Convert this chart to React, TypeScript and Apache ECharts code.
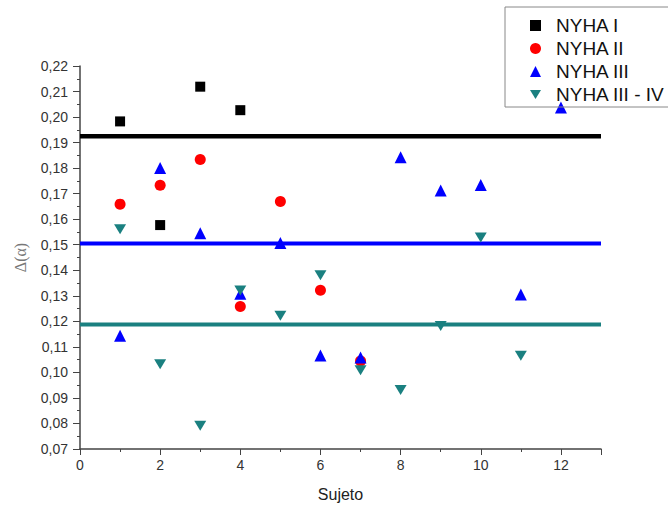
import React, { useEffect, useRef } from "react";
import * as echarts from "echarts";

const subjects = [1, 2, 3, 4, 5, 6, 7, 8, 9, 10, 11, 12];
const nyha1X = [1, 2, 3, 4];
const nyha1Y = [0.1983, 0.1577, 0.2119, 0.2027];
const nyha2X = [1, 2, 3, 4, 5, 6, 7];
const nyha2Y = [0.1659, 0.1733, 0.1834, 0.1258, 0.1669, 0.1322, 0.1045];
const nyha3X = subjects;
const nyha3Y = [0.1144, 0.1801, 0.1545, 0.1308, 0.1507, 0.1066, 0.1058, 0.1843, 0.1712, 0.1734, 0.1305, 0.2037];
const nyha34X = [1, 2, 3, 4, 5, 6, 7, 8, 9, 10, 11];
const nyha34Y = [0.1561, 0.1032, 0.0791, 0.1321, 0.1222, 0.138, 0.1008, 0.0931, 0.1182, 0.1528, 0.1065];
const meanLevels = [0.1925, 0.1505, 0.1188];
const meanColors = ["#000000", "#0000ff", "#1a8080"];
const seriesNames = ["NYHA I", "NYHA II", "NYHA III", "NYHA III - IV"];

const zip = (xs: number[], ys: number[]) => xs.map((x, i) => [x, ys[i]]);

const downTri = "path://M0,0 L12,0 L6,10 Z";

export default function App() {
  const ref = useRef<HTMLDivElement>(null);
  useEffect(() => {
    if (!ref.current) return;
    const chart = echarts.init(ref.current, undefined, { renderer: "svg" });
    const font = "Liberation Sans, Arial, sans-serif";
    const lines = meanLevels.map((v, i) => ({
      name: "mean" + i,
      type: "line",
      data: [[0, v], [13, v]],
      symbol: "none",
      lineStyle: { color: meanColors[i], width: i === 0 ? 4.5 : 4 },
      z: 1,
      silent: true,
    }));
    const scat = (name: string, data: number[][], symbol: string, color: string, size: number | number[]) => ({
      name,
      type: "scatter",
      data,
      symbol,
      symbolSize: size,
      itemStyle: { color, opacity: 1 },
      z: 3,
    });
    chart.setOption({
      animation: false,
      backgroundColor: "#ffffff",
      grid: { left: 80, right: 67, top: 66, bottom: 59 },
      legend: {
        orient: "vertical",
        left: 505,
        top: 7,
        data: [
          { name: seriesNames[0], icon: "rect" },
          { name: seriesNames[1], icon: "circle" },
          { name: seriesNames[2], icon: "triangle" },
          { name: seriesNames[3], icon: downTri },
        ],
        itemWidth: 11,
        itemHeight: 11,
        itemGap: 4,
        padding: [9, 30, 3, 25],
        borderColor: "#888888",
        borderWidth: 1,
        textStyle: { fontFamily: font, fontSize: 19, color: "#111", padding: [0, 0, 0, 10] },
      },
      xAxis: {
        type: "value",
        min: 0,
        max: 13,
        interval: 2,
        name: "Sujeto",
        nameLocation: "middle",
        nameGap: 37,
        nameTextStyle: { fontFamily: font, fontSize: 16, color: "#222" },
        axisLine: { lineStyle: { color: "#444", width: 1.5 } },
        axisTick: { show: true, length: 6, inside: false, lineStyle: { color: "#444" } },
        minorTick: { show: true, splitNumber: 2, length: 3, lineStyle: { color: "#444" } },
        axisLabel: {
          fontFamily: font,
          fontSize: 14,
          color: "#333",
          margin: 9,
          formatter: (v: number) => (v % 2 === 0 ? String(v) : ""),
        },
        splitLine: { show: false },
      },
      yAxis: {
        type: "value",
        min: 0.07,
        max: 0.22,
        interval: 0.01,
        name: "Δ(α)",
        nameLocation: "middle",
        nameGap: 52,
        nameRotate: 90,
        nameTextStyle: { fontFamily: "Liberation Serif, Times New Roman, serif", fontSize: 16, color: "#777" },
        axisLine: { show: true, lineStyle: { color: "#444", width: 1.5 } },
        axisTick: { show: true, length: 7, inside: false, lineStyle: { color: "#444" } },
        minorTick: { show: true, splitNumber: 2, length: 3, lineStyle: { color: "#444" } },
        axisLabel: {
          fontFamily: font,
          fontSize: 14,
          color: "#333",
          margin: 12,
          formatter: (v: number) => v.toFixed(2).replace(".", ","),
        },
        splitLine: { show: false },
      },
      series: [
        ...lines,
        scat("NYHA I", zip(nyha1X, nyha1Y), "rect", "#000000", 10),
        scat("NYHA II", zip(nyha2X, nyha2Y), "circle", "#ff0000", 11),
        scat("NYHA III", zip(nyha3X, nyha3Y), "triangle", "#0000ff", 12),
        scat("NYHA III - IV", zip(nyha34X, nyha34Y), downTri, "#1a8080", [12, 10]),
      ],
    });
    return () => chart.dispose();
  }, []);
  return <div ref={ref} style={{ width: 668, height: 508, position: "absolute", left: 0, top: 0 }} />;
}
